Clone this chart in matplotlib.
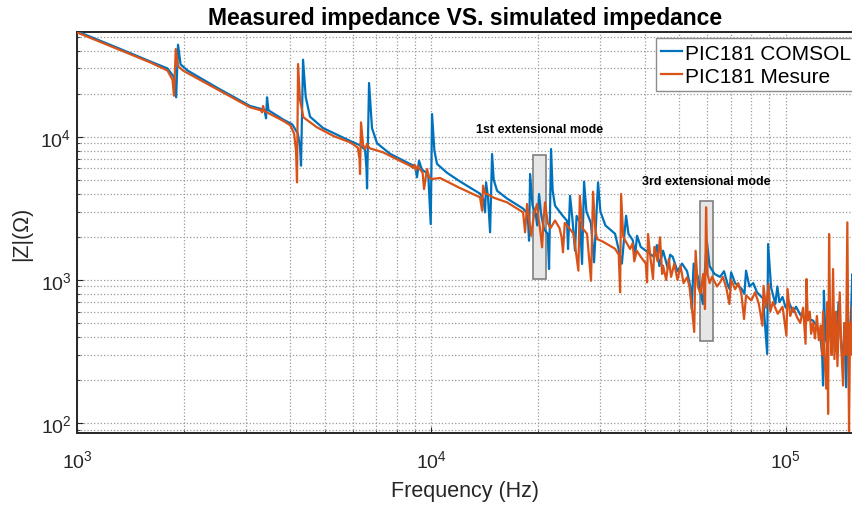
import matplotlib
matplotlib.use("Agg")
import matplotlib.pyplot as plt
from matplotlib.patches import Rectangle

plt.rcParams['font.family'] = ['Liberation Sans', 'DejaVu Sans']
plt.rcParams['mathtext.fontset'] = 'custom'
plt.rcParams['mathtext.rm'] = 'Liberation Sans'

# PIC181 COMSOL (simulation): frequency (Hz), |Z| (ohm)
f_comsol = [1000, 1300, 1607, 1800, 1880, 1905, 1928, 1960, 2050, 2500,
            3078, 3380, 3416, 3438, 3470, 3814, 4050, 4200, 4260, 4288,
            4345, 4420, 4546, 4946, 5895, 6300, 6500, 6560, 6585, 6672,
            6800, 7028, 7645, 8708, 9000, 9112, 9232, 9400, 9800, 9960,
            10046, 10200, 10378, 11073, 12000, 13725, 14000, 14180, 14272, 14450,
            14649, 14839, 15000, 15330, 16360, 18150, 18700, 18870, 19000, 19300,
            19700, 19900, 20140, 20400, 20800, 21300, 21490, 21770, 22000, 22340,
            23500, 24150, 24310, 24630, 25000, 25440, 25700, 26300, 26630, 26980,
            27400, 28200, 28790, 29550, 30000, 31000, 33000, 34500, 35450, 36000,
            37000, 37600, 38070, 39000, 41000, 42500, 43300, 44000, 45080, 46500,
            47200, 48000, 49500, 51000, 52700, 53800, 54300, 55000, 56500, 58400,
            59900, 61000, 63000, 65300, 67000, 68500, 69500, 70160, 72000, 75000,
            76500, 77300, 79000, 81000, 83000, 86360, 88700, 89200, 91000, 93500,
            94750, 96000, 98000, 100000, 102000, 105000, 107000, 110000, 115000, 119500,
            122000, 125000, 126800, 127500, 128200, 129500, 131000, 133000, 135000, 137000,
            139000, 141000, 143000, 145000, 146500, 148100, 149500, 151000, 153000, 154200,
            155000]
z_comsol = [54500, 41800, 33600, 30000, 26000, 18840, 43910, 32000, 29000, 21800,
            16400, 15400, 13440, 18840, 15300, 13200, 12200, 10500, 8500, 6275,
            34490, 19000, 13800, 11500, 9350, 8700, 8100, 6000, 4360, 23710,
            11500, 9000, 7600, 6450, 6200, 5205, 6800, 5900, 5500, 2457,
            14400, 8000, 6450, 5600, 4900, 4000, 3700, 2965, 4800, 3800,
            2149, 7570, 5000, 4195, 3700, 3150, 2900, 1878, 5490, 3300,
            2900, 2400, 3980, 2900, 2266, 2100, 1192, 8200, 4200, 3300,
            2800, 2590, 1643, 3873, 2700, 1599, 2800, 2500, 1291, 4850,
            3000, 2500, 1327, 4800, 3000, 2400, 2100, 1300, 2810, 2100,
            1900, 1500, 2035, 1700, 1550, 1450, 1750, 1250, 1600, 1200,
            1500, 1450, 1150, 1300, 1150, 900, 626, 1300, 1050, 679,
            1878, 1250, 1100, 1050, 1150, 940, 860, 1130, 950, 870,
            800, 1160, 900, 950, 820, 740, 304, 1780, 880, 680,
            900, 700, 760, 640, 700, 600, 650, 570, 540, 520,
            480, 420, 300, 183, 840, 400, 350, 600, 300, 500,
            320, 700, 400, 250, 500, 178, 450, 350, 600, 1100,
            800]

# PIC181 Mesure (measurement)
f_mesure = [1000, 1300, 1607, 1800, 1860, 1878, 1900, 1930, 1995, 2500,
            3078, 3300, 3330, 3350, 3380, 3814, 4000, 4100, 4150, 4178,
            4206, 4260, 4355, 4757, 5300, 5895, 6200, 6270, 6291, 6333,
            6420, 6500, 6585, 6700, 7307, 8000, 8708, 8880, 8960, 9050,
            9150, 9300, 9450, 9537, 9725, 9850, 10046, 10582, 12000, 13725,
            13905, 13995, 14200, 14365, 15000, 16360, 18150, 18390, 18630, 18900,
            19120, 19500, 19880, 20100, 20270, 20540, 20750, 20940, 21300, 21700,
            22340, 23000, 23300, 23530, 23800, 24500, 25200, 26000, 26250, 26700,
            27500, 28230, 28600, 29000, 29350, 30500, 33000, 33800, 34100, 34320,
            34800, 36380, 37000, 37400, 38000, 39000, 40300, 40630, 40890, 41500,
            42240, 42600, 43500, 44210, 44800, 45080, 46000, 46800, 47500, 48500,
            49500, 50500, 51500, 52710, 53500, 54500, 55200, 55700, 56500, 57500,
            58500, 59200, 59620, 60200, 61000, 62000, 64000, 65300, 66500, 68000,
            69350, 70200, 72000, 73500, 75000, 76300, 77300, 80000, 82000, 84000,
            86000, 86600, 88000, 89500, 90500, 92000, 95000, 98000, 100500, 101200,
            103000, 105000, 107700, 110000, 112000, 113800, 114500, 115500, 117000, 118000,
            119500, 121000, 122500, 124000, 125500, 126800, 127500, 128700, 130300, 131000,
            131750, 132600, 133500, 134800, 136100, 137300, 138700, 140000, 142100, 143500,
            145200, 146500, 148000, 149300, 150200, 150950, 152000, 153000, 154200, 155000]
z_mesure = [53500, 41000, 33080, 29000, 25000, 19330, 40960, 31000, 28900, 21270,
            16050, 15300, 14800, 16400, 15100, 12930, 12000, 10500, 8000, 4800,
            32190, 18000, 13660, 11630, 10100, 9140, 8400, 7000, 5490, 12600,
            8700, 8200, 8890, 8300, 7780, 6950, 6275, 6050, 6400, 5850,
            6250, 5900, 5600, 4310, 5950, 5200, 5065, 5150, 4400, 3775,
            3042, 4550, 4000, 3980, 3750, 3481, 2965, 2149, 3388, 2600,
            2035, 2900, 3388, 2600, 2266, 1689, 2700, 3481, 2500, 2300,
            2600, 2300, 2000, 1558, 2500, 2300, 2100, 1160, 3873, 2300,
            2100, 987, 4130, 2300, 1930, 1850, 1650, 1500, 819, 3980,
            2000, 1643, 1800, 1350, 1600, 1450, 1300, 962, 2091, 1450,
            1015, 1700, 1350, 1984, 1100, 1257, 1000, 1400, 1050, 1300,
            1000, 1250, 950, 1043, 900, 600, 433, 1599, 900, 800,
            1100, 626, 3213, 1100, 950, 1050, 900, 962, 1050, 880,
            679, 1000, 860, 950, 800, 533, 780, 720, 820, 680,
            479, 910, 640, 936, 600, 700, 580, 650, 408, 866,
            560, 640, 548, 500, 640, 358, 1015, 520, 600, 420,
            500, 390, 560, 380, 480, 300, 600, 280, 174, 700,
            116, 2091, 500, 300, 1192, 280, 600, 250, 819, 350,
            183, 500, 300, 2524, 400, 88, 500, 300, 650, 450]

blue = '#0072BD'
orange = '#D95319'

fig = plt.figure(figsize=(8.53, 5.06), dpi=100)
ax = fig.add_axes([77/853, 72/506, 776/853, 400.7/506])

ax.plot(f_comsol, z_comsol, color=blue, lw=1.6, label='PIC181 COMSOL', zorder=3)
ax.plot(f_mesure, z_mesure, color=orange, lw=1.6, label='PIC181 Mesure', zorder=3)

ax.set_xscale('log')
ax.set_yscale('log')
ax.set_xlim(1000, 154900)
ax.set_ylim(85.3, 53600)

ax.grid(True, which='both', ls=':', color='#9a9a9a', lw=0.9)
ax.set_axisbelow(True)
for side in ['left', 'bottom', 'top']:
    ax.spines[side].set_linewidth(1.4)
    ax.spines[side].set_color('#262626')
ax.spines['right'].set_visible(False)
ax.tick_params(which='both', direction='in', colors='#262626', labelsize=14)
ax.tick_params(which='major', length=4)
ax.tick_params(which='minor', length=2)
ax.tick_params(axis='x', pad=12)
ax.tick_params(axis='y', pad=4)

ax.set_xlabel('Frequency (Hz)', fontsize=15.5, color='#262626', labelpad=6)
ax.set_ylabel('|Z|(Ω)', fontsize=15.5, color='#262626', labelpad=6)
ax.set_title('Measured impedance VS. simulated impedance', fontsize=16.5,
             fontweight='bold', pad=6)

# grey boxes marking the extensional modes, drawn under the curves
ax.add_patch(Rectangle((19360, 1015), 21060 - 19360, 7450 - 1015,
                       facecolor='#e6e6e6', edgecolor='#7f7f7f', lw=1.2, zorder=2))
ax.add_patch(Rectangle((57300, 373), 62340 - 57300, 3540 - 373,
                       facecolor='#e6e6e6', edgecolor='#7f7f7f', lw=1.2, zorder=2))
ax.text(20220, 11320, '1st extensional mode', fontsize=9, fontweight='bold',
        ha='center', va='center')
ax.text(59840, 4910, '3rd extensional mode', fontsize=9, fontweight='bold',
        ha='center', va='center')

leg = ax.legend(loc='upper right', bbox_to_anchor=(1.004, 0.985), fontsize=15,
                handlelength=1.0, handletextpad=0.15, borderaxespad=0,
                borderpad=0.25, labelspacing=0.2, fancybox=False, framealpha=1)
leg.get_frame().set_edgecolor('#8c8c8c')
leg.get_frame().set_linewidth(1.0)
leg.set_zorder(5)

fig.savefig('out.png', dpi=100)
